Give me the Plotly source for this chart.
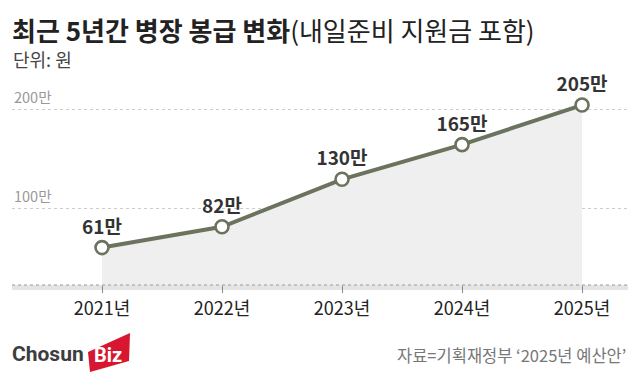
import plotly.graph_objects as go

# ---- data ----
years = ["2021년", "2022년", "2023년", "2024년", "2025년"]
pay_manwon = [61, 82, 130, 165, 205]
point_labels = [f"{v}만" for v in pay_manwon]
y_tick_vals = [100, 200]
y_tick_text = ["100만", "200만"]

title_bold = "최근 5년간 병장 봉급 변화"
title_rest = "(내일준비 지원금 포함)"
unit_text = "단위: 원"
source_text = "자료=기획재정부 ‘2025년 예산안’"

# ---- layout geometry (pixels) ----
W, H = 640, 380
L, R, T, B = 12, 628, 90, 285
KFONT = "Noto Sans CJK KR"
LINE_C = "#6b735f"


def px(x):
    return (x - L) / (R - L)


def py(y):
    return (B - y) / (B - T)


fig = go.Figure()
fig.add_trace(go.Scatter(
    x=years, y=pay_manwon,
    mode="lines+markers+text",
    fill="tozeroy", fillcolor="#efefef",
    line=dict(color=LINE_C, width=4),
    marker=dict(size=13, color="white", line=dict(color=LINE_C, width=2.6)),
    text=point_labels, textposition="top center",
    textfont=dict(family=KFONT, size=19, color="#333333", weight="bold"),
    hoverinfo="skip", cliponaxis=False,
))

shapes = [
    # shadow under baseline
    dict(type="rect", xref="paper", yref="paper", x0=0, x1=1,
         y0=py(290), y1=py(285), fillcolor="#e4e4e4", line=dict(width=0), layer="below"),
    dict(type="line", xref="paper", yref="paper", x0=0, x1=1,
         y0=py(285), y1=py(285), line=dict(color="#999999", width=1, dash="dot")),
    # logo red parallelogram
    dict(type="path", xref="paper", yref="paper",
         path=f"M {px(88)} {py(352)} L {px(130)} {py(333)} L {px(129)} {py(361)} L {px(90)} {py(372)} Z",
         fillcolor="#d7172f", line=dict(width=0)),
]

annotations = [
    dict(text=f"<b>{title_bold}</b>{title_rest}", xref="paper", yref="paper",
         x=px(10), y=py(29), xanchor="left", yanchor="middle", showarrow=False,
         font=dict(family=KFONT, size=26, color="#222222")),
    dict(text=unit_text, xref="paper", yref="paper",
         x=px(11), y=py(59), xanchor="left", yanchor="middle", showarrow=False,
         font=dict(family=KFONT, size=18, color="#444444")),
    dict(text=source_text, xref="paper", yref="paper",
         x=px(628), y=py(355), xanchor="right", yanchor="middle", showarrow=False,
         font=dict(family=KFONT, size=16.5, color="#777777")),
    dict(text="<b>Chosun</b>", xref="paper", yref="paper",
         x=px(10), y=py(354), xanchor="left", yanchor="middle", showarrow=False,
         font=dict(family="Roboto", size=21, color="#3d3d3d")),
    dict(text="<b>Biz</b>", xref="paper", yref="paper",
         x=px(108), y=py(355), xanchor="center", yanchor="middle", showarrow=False,
         font=dict(family="Roboto", size=20, color="white")),
]
for v, t in zip(y_tick_vals, y_tick_text):
    annotations.append(dict(
        text=t, xref="paper", yref="y", x=0, y=v, xanchor="left", yanchor="bottom",
        showarrow=False, yshift=1,
        font=dict(family=KFONT, size=14.5, color="#999999")))

fig.update_layout(
    width=W, height=H,
    margin=dict(l=L, r=W - R, t=T, b=H - B),
    paper_bgcolor="white", plot_bgcolor="white",
    showlegend=False,
    shapes=shapes, annotations=annotations,
    xaxis=dict(
        type="category", range=[-0.75, 4.383],
        showgrid=False, zeroline=False, showline=False,
        ticks="outside", ticklen=7, tickcolor="#888888", tickwidth=1,
        tickfont=dict(family=KFONT, size=18, color="#222222"),
        fixedrange=True,
    ),
    yaxis=dict(
        range=[23.2, 220.2],
        tickvals=y_tick_vals, showticklabels=False,
        showgrid=True, gridcolor="#cccccc", griddash="dot", gridwidth=1,
        zeroline=False, showline=False, ticks="",
        fixedrange=True,
    ),
)

fig.write_html("out.html", config={"displayModeBar": False},
               post_script="document.body.style.margin='0';")
